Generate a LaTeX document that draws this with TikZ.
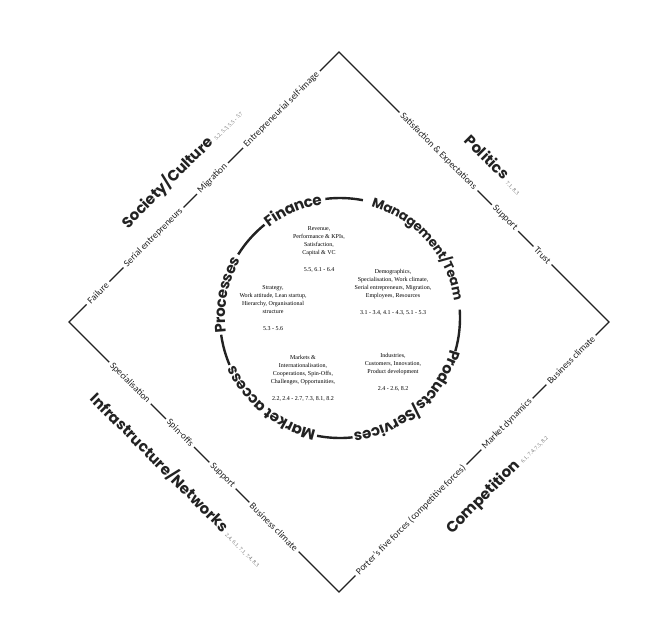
\documentclass[tikz,border=0pt]{standalone}
\usepackage{fontspec}
\newfontfamily\headfont{Poppins}
\newfontfamily\itemfont{Carlito}
\newfontfamily\bodyfont{Liberation Serif}
\usetikzlibrary{decorations.text}
\definecolor{ink}{HTML}{222222}
\definecolor{refgray}{HTML}{6E6E6E}
\begin{document}
\begin{tikzpicture}[x=1pt,y=1pt,
  edge/.style={draw=ink, line width=1.2pt, line join=miter},
  ring/.style={draw=ink, line width=2.4pt},
  item/.style={font=\itemfont\fontsize{9.5}{10}\selectfont, text=ink, fill=white, inner xsep=3pt, inner ysep=1pt},
  head/.style={font=\headfont\bfseries\fontsize{15}{16}\selectfont, text=ink, inner sep=1pt},
  refs/.style={font=\bodyfont\fontsize{5.5}{6}\selectfont, text=refgray, inner sep=2pt},
  body/.style={font=\bodyfont\fontsize{6}{8}\selectfont, align=center, text=black, inner sep=0pt},
  arclabel/.style={decorate, decoration={text along path, text align=center, raise=-5pt,
      text={|\headfont\bfseries\fontsize{15}{16}\selectfont\color{ink}|#1}}},
  arclabelsmall/.style={decorate, decoration={text along path, text align=center, raise=-4.5pt,
      text={|\headfont\bfseries\fontsize{13.2}{15}\selectfont\color{ink}|#1}}}
]
\fill[white] (0,0) rectangle (656,-630);
\useasboundingbox (0,0) rectangle (656,-630);

% diamond
\coordinate (L) at (69,-322);
\coordinate (T) at (339,-52);
\coordinate (R) at (609,-322);
\coordinate (B) at (339,-592);
\draw[edge] (L) -- (T) -- (R) -- (B) -- cycle;

% upper-left edge
\node[item, rotate=45] (ul1) at (98,-293) {Failure};
\node[item, rotate=45] (ul2) at (153.5,-237.5) {Serial entrepreneurs};
\node[item, rotate=45] (ul3) at (212.5,-178.5) {Migration};
\node[item, rotate=45] (ul4) at (281.5,-109.5) {Entrepreneurial self-image};
% upper-right edge
\node[item, rotate=-45] (ur1) at (438.5,-151.5) {Satisfaction \& Expectations};
\node[item, rotate=-45] (ur2) at (505,-218) {Support};
\node[item, rotate=-45] (ur3) at (542.5,-255.5) {Trust};
% lower-right edge
\node[item, rotate=45] (lr1) at (571,-360) {Business climate};
\node[item, rotate=45] (lr2) at (507,-424) {Market dynamics};
\node[item, rotate=45] (lr3) at (411,-520) {Porter’s five forces (competitive forces)};
% lower-left edge
\node[item, rotate=-45] (ll1) at (130,-383) {Specialisation};
\node[item, rotate=-45] (ll2) at (180,-433) {Spin-offs};
\node[item, rotate=-45] (ll3) at (222.5,-475.5) {Support};
\node[item, rotate=-45] (ll4) at (274,-527) {Business climate};

% headings
\node[head, rotate=45] (soc) at (167.5,-182.5) {Society/Culture};
\node[refs, rotate=45, anchor=base west] (socr) at (soc.base east) {5.2, 5.3, 5.5 - 5.7};
\node[head, rotate=-45] (pol) at (487.5,-157) {Politics};
\node[refs, rotate=-45, anchor=base west] (polr) at (pol.base east) {7.1, 8.3};
\node[head, rotate=45] (com) at (483.5,-497.5) {Competition};
\node[refs, rotate=45, anchor=base west] (comr) at (com.base east) {6.1, 7.4, 7.5, 8.2};
\node[head, rotate=-45] (inf) at (160,-462.5) {Infrastructure/Networks};
\node[refs, rotate=-45, anchor=base west] (infr) at (inf.base east) {2.4, 6.1, 7.1, 7.4, 8.3};

% inner ring
\coordinate (C) at (340,-318);
\draw[ring] ([shift={(148:120)}]C) arc (148:129:120);
\draw[ring] ([shift={(97:120)}]C) arc (97:79:120);
\draw[ring] ([shift={(4:120)}]C) arc (4:-16:120);
\draw[ring] ([shift={(-84:120)}]C) arc (-84:-101:120);
\draw[ring] ([shift={(203:120)}]C) arc (203:188:120);

\path[arclabel=Finance] ([shift={(153.5:120)}]C) arc (153.5:73.5:120);
\path[arclabelsmall=Management/Team] ([shift={(101.5:120)}]C) arc (101.5:-18.5:120);
\path[arclabel=Products/Services] ([shift={(10.5:120)}]C) arc (10.5:-109.5:120);
\path[arclabel=Market access] ([shift={(291:120)}]C) arc (291:171:120);
\path[arclabel=Processes] ([shift={(218.5:120)}]C) arc (218.5:118.5:120);

% inner texts
\node[body] (tfin) at (319,-249) {Revenue,\\Performance \& KPIs,\\Satisfaction,\\Capital \& VC\\[9pt]5.5, 6.1 - 6.4};
\node[body] (tpro) at (273,-308.5) {Strategy,\\Work attitude, Lean startup,\\Hierarchy, Organisational\\structure\\[9pt]5.3 - 5.6};
\node[body] (tman) at (393,-292.5) {Demographics,\\Specialisation, Work climate,\\Serial entrepreneurs, Migration,\\Employees, Resources\\[9pt]3.1 - 3.4, 4.1 - 4.3, 5.1 - 5.3};
\node[body] (tmar) at (303,-378) {Markets \&\\Internationalisation,\\Cooperations, Spin-Offs,\\Challenges, Opportunities,\\[9pt]2.2, 2.4 - 2.7, 7.3, 8.1, 8.2};
\node[body] (tprd) at (393,-372) {Industries,\\Customers, Innovation,\\Product development\\[9pt]2.4 - 2.6, 8.2};
\end{tikzpicture}
\end{document}
